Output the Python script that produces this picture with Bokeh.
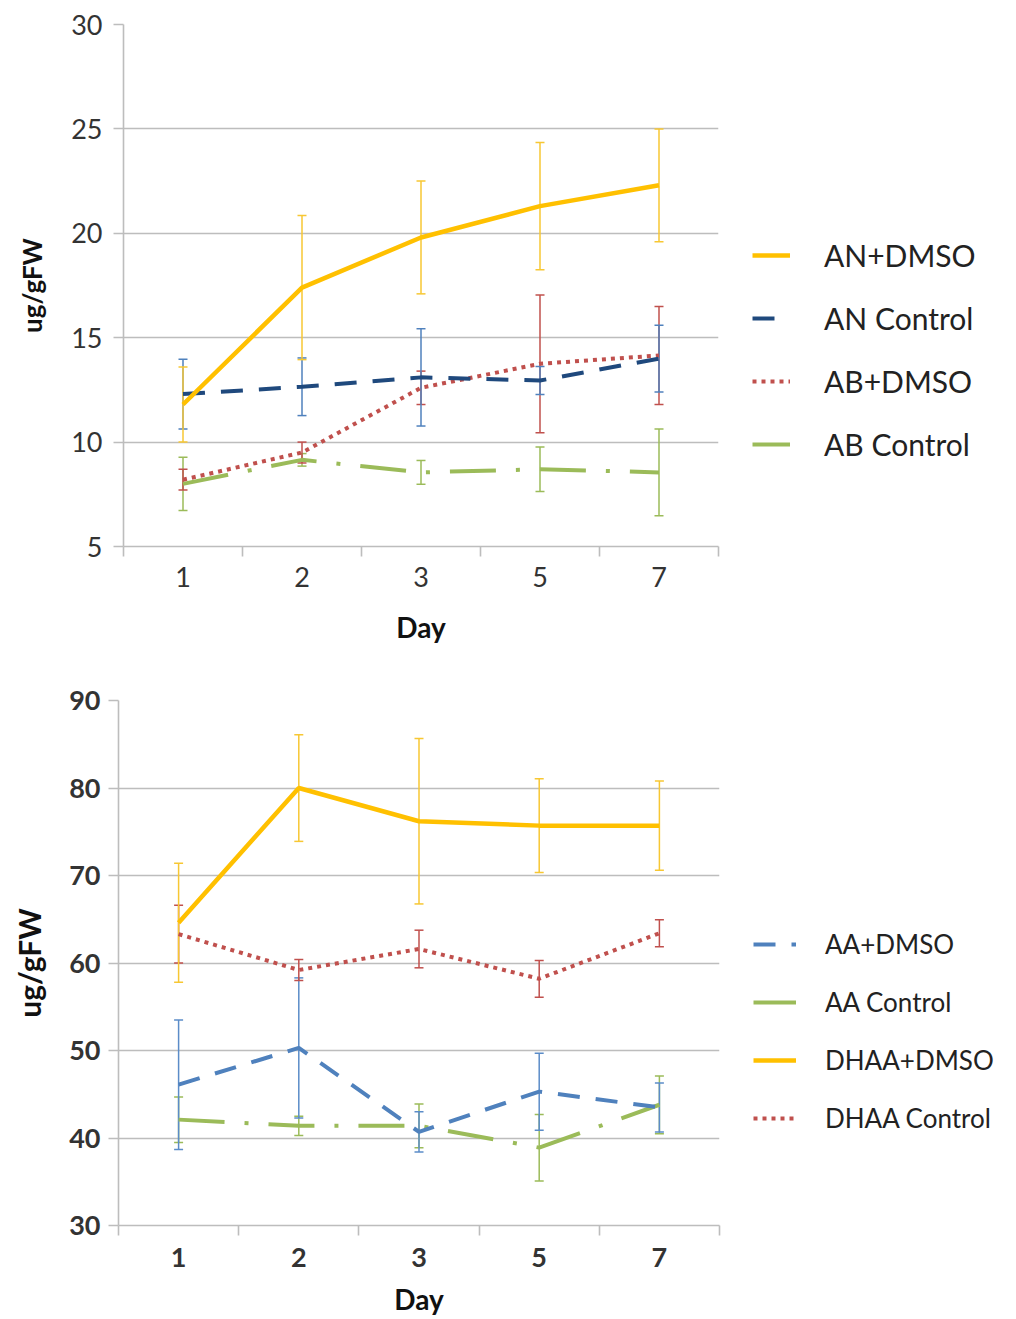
from bokeh.plotting import figure
from bokeh.models import (ColumnDataSource, Range1d, FixedTicker, Whisker, TeeHead,
                          Legend, LegendItem)
from bokeh.layouts import column, row
from bokeh.embed import file_html
from bokeh.resources import INLINE

# ---------------- data ----------------
days = ["1", "2", "3", "5", "7"]

# top chart
an_dmso = [11.8, 17.4, 19.8, 21.3, 22.3]
an_dmso_err = [1.8, 3.45, 2.7, 3.05, 2.7]
an_ctrl = [12.3, 12.65, 13.1, 12.95, 14.0]
an_ctrl_err = [1.67, 1.38, 2.33, 0.67, 1.6]
ab_dmso = [8.2, 9.5, 12.6, 13.75, 14.15]
ab_dmso_err = [0.5, 0.5, 0.8, 3.3, 2.35]
ab_ctrl = [8.0, 9.15, 8.55, 8.7, 8.55]
ab_ctrl_err = [1.28, 0.3, 0.57, 1.07, 2.08]
top_yticks = [5, 10, 15, 20, 25, 30]

# bottom chart
aa_dmso = [46.1, 50.3, 40.7, 45.3, 43.5]
aa_dmso_err = [7.4, 8.0, 2.3, 4.4, 2.8]
aa_ctrl = [42.1, 41.4, 41.4, 38.9, 43.8]
aa_ctrl_err = [2.6, 1.1, 2.5, 3.8, 3.3]
dhaa_dmso = [64.6, 80.0, 76.2, 75.7, 75.7]
dhaa_dmso_err = [6.8, 6.1, 9.45, 5.35, 5.1]
dhaa_ctrl = [63.3, 59.2, 61.6, 58.2, 63.4]
dhaa_ctrl_err = [3.3, 1.2, 2.15, 2.1, 1.55]
bottom_yticks = [30, 40, 50, 60, 70, 80, 90]

# ---------------- styles ----------------
GOLD = "#FFC000"
NAVY = "#1F497D"
BLUE = "#4F81BD"
RED = "#C0504D"
GREEN = "#9BBB59"
FONT = "Lato"

xpos = [i + 0.5 for i in range(len(days))]


def make_chart(series, yticks, height, fw, fh, bl, bt, bb, bold_ticks,
               ylabel_standoff, ytick_standoff, xtick_standoff, xlabel_standoff,
               ylab_size):
    p = figure(frame_width=fw, frame_height=fh, height=height,
               min_border_left=bl, min_border_right=1000 - bl - fw,
               min_border_top=bt, min_border_bottom=bb,
               x_range=Range1d(0, len(days)), y_range=Range1d(yticks[0], yticks[-1]),
               output_backend="svg", toolbar_location=None, tools="")
    p.outline_line_color = None
    p.background_fill_color = "white"
    p.xgrid.visible = False
    p.ygrid.grid_line_color = "#BDBDBD"
    p.ygrid.grid_line_width = 1.6
    p.ygrid.ticker = FixedTicker(ticks=yticks)

    # y axis
    ya = p.yaxis[0]
    ya.ticker = FixedTicker(ticks=yticks)
    ya.axis_line_color = "#BDBDBD"
    ya.axis_line_width = 1.6
    ya.major_tick_line_color = "#BDBDBD"
    ya.major_tick_line_width = 1.6
    ya.major_tick_out = 10
    ya.major_tick_in = 0
    ya.minor_tick_line_color = None
    ya.major_label_text_font = FONT
    ya.major_label_text_font_size = "27px"
    ya.major_label_text_font_style = "bold" if bold_ticks else "normal"
    ya.major_label_text_color = "#333333"
    ya.major_label_standoff = ytick_standoff
    ya.axis_label = "ug/gFW"
    ya.axis_label_text_font = FONT
    ya.axis_label_text_font_size = ylab_size
    ya.axis_label_text_font_style = "bold"
    ya.axis_label_text_color = "#111111"
    ya.axis_label_standoff = ylabel_standoff

    # x axis: labels at category centres, ticks between categories
    xa = p.xaxis[0]
    xa.ticker = FixedTicker(ticks=xpos, minor_ticks=list(range(len(days) + 1)))
    xa.major_label_overrides = {x: d for x, d in zip(xpos, days)}
    xa.axis_line_color = "#BDBDBD"
    xa.axis_line_width = 1.6
    xa.major_tick_line_color = None
    xa.major_tick_out = 10
    xa.major_tick_in = 0
    xa.minor_tick_line_color = "#BDBDBD"
    xa.minor_tick_line_width = 1.6
    xa.minor_tick_out = 10
    xa.minor_tick_in = 0
    xa.major_label_text_font = FONT
    xa.major_label_text_font_size = "27px"
    xa.major_label_text_font_style = "bold" if bold_ticks else "normal"
    xa.major_label_text_color = "#333333"
    xa.major_label_standoff = xtick_standoff
    xa.axis_label = "Day"
    xa.axis_label_text_font = FONT
    xa.axis_label_text_font_size = "28px"
    xa.axis_label_text_font_style = "bold"
    xa.axis_label_text_color = "#111111"
    xa.axis_label_standoff = xlabel_standoff

    items = {}
    for (label, vals, errs, color, ecolor, dash, lw) in series:
        src = ColumnDataSource(dict(
            x=xpos, y=vals,
            upper=[v + e for v, e in zip(vals, errs)],
            lower=[v - e for v, e in zip(vals, errs)]))
        w = Whisker(base="x", upper="upper", lower="lower", source=src,
                    line_color=ecolor, line_width=1.5,
                    upper_head=TeeHead(size=9, line_color=ecolor, line_width=1.5),
                    lower_head=TeeHead(size=9, line_color=ecolor, line_width=1.5))
        p.add_layout(w)
        r = p.line("x", "y", source=src, line_color=color, line_width=lw,
                   line_dash=dash)
        items[label] = r
    return p, items


top_series = [
    ("AB Control", ab_ctrl, ab_ctrl_err, GREEN, GREEN, "46 20 4 20", 4),
    ("AB+DMSO", ab_dmso, ab_dmso_err, RED, RED, "4 5", 4),
    ("AN Control", an_ctrl, an_ctrl_err, NAVY, BLUE, "22 16", 4),
    ("AN+DMSO", an_dmso, an_dmso_err, GOLD, "#F7C733", "solid", 4.5),
]
p1, it1 = make_chart(top_series, top_yticks, 660, 595, 522, 123, 24, 114, False,
                     20, 11, 10, 20, "26px")
leg1 = Legend(items=[LegendItem(label=k, renderers=[it1[k]]) for k in
                     ["AN+DMSO", "AN Control", "AB+DMSO", "AB Control"]],
              location=(34, 84))
p1.add_layout(leg1, "right")

bottom_series = [
    ("AA Control", aa_ctrl, aa_ctrl_err, GREEN, GREEN, "46 20 4 20", 4),
    ("AA+DMSO", aa_dmso, aa_dmso_err, BLUE, "#5B8CC8", "22 16", 4),
    ("DHAA Control", dhaa_ctrl, dhaa_ctrl_err, RED, RED, "4 5", 4),
    ("DHAA+DMSO", dhaa_dmso, dhaa_dmso_err, GOLD, "#F7C733", "solid", 4.5),
]
p2, it2 = make_chart(bottom_series, bottom_yticks, 655, 601, 525, 118, 40, 90, True,
                     19, 8, 12, 12, "30px")
leg2 = Legend(items=[LegendItem(label=k, renderers=[it2[k]]) for k in
                     ["AA+DMSO", "AA Control", "DHAA+DMSO", "DHAA Control"]],
              location=(34, 91))
p2.add_layout(leg2, "right")

for leg, fs, h, sp, gw, st in [(leg1, "30px", 30, 27, 38, 34),
                               (leg2, "26px", 28, 26, 43, 29)]:
    leg.border_line_color = None
    leg.background_fill_alpha = 0
    leg.padding = 0
    leg.margin = 0
    leg.spacing = sp
    leg.glyph_width = gw
    leg.glyph_height = h
    leg.label_height = h
    leg.label_standoff = st
    leg.label_text_font = FONT
    leg.label_text_font_size = fs
    leg.label_text_color = "#222222"

layout = column(row(p1), row(p2), spacing=0)
open("out.html", "w").write(file_html(layout, INLINE))
